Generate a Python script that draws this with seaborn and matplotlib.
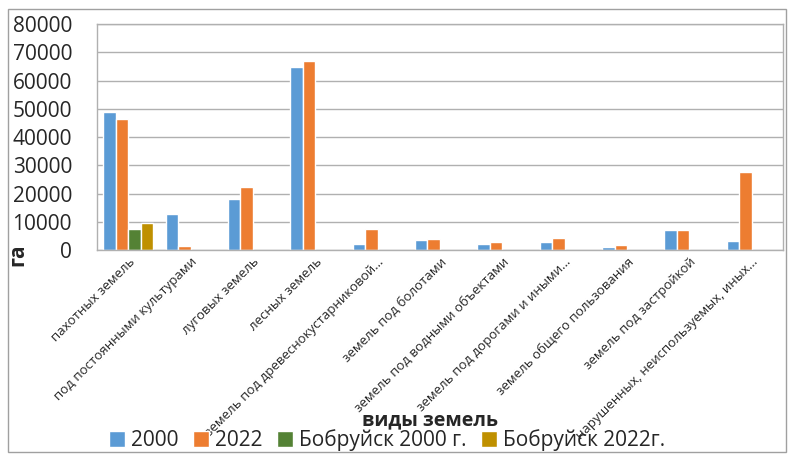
import pandas as pd
import numpy as np
import seaborn as sns
import matplotlib.pyplot as plt
from matplotlib.patches import Rectangle

# категории и значения (га)
categories = ['пахотных земель', 'под постоянными культурами', 'луговых земель',
              'лесных земель', 'земель под древеснокустарниковой…',
              'земель под болотами', 'земель под водными объектами',
              'земель под дорогами и иными…', 'земель общего пользования',
              'земель под застройкой', 'нарушенных, неиспользуемых, иных…']
series = ['2000', '2022', 'Бобруйск 2000 г.', 'Бобруйск 2022г.']
v2000 = [49000, 12800, 18000, 64700, 2000, 3650, 2000, 2850, 1200, 7200, 3300]
v2022 = [46300, 1500, 22300, 67000, 7600, 4000, 2850, 4350, 1650, 7200, 27600]
bob2000 = [7600] + [np.nan] * 10
bob2022 = [9700] + [np.nan] * 10
colors = ['#5B9BD5', '#ED7D31', '#548235', '#BF9000']

rows = []
for name, vals in zip(series, [v2000, v2022, bob2000, bob2022]):
    for c, v in zip(categories, vals):
        rows.append({'вид': c, 'серия': name, 'га': v})
df = pd.DataFrame(rows)

sns.set_style('white')
plt.rcParams['font.family'] = ['Open Sans', 'DejaVu Sans']

fig = plt.figure(figsize=(7.9, 4.54), dpi=100)
ax = fig.add_axes([0.1228, 0.4493, 0.8682, 0.4977])

sns.barplot(data=df, x='вид', y='га', hue='серия', order=categories,
            hue_order=series, palette=colors, errorbar=None, width=0.8,
            saturation=1, ax=ax)

ax.set_ylim(0, 80000)
ax.set_yticks(range(0, 80001, 10000))
ax.yaxis.grid(True, color='#b0b0b0', linewidth=1)
ax.set_axisbelow(True)
for s in ax.spines.values():
    s.set_color('#b0b0b0')
    s.set_linewidth(1)

ax.tick_params(axis='y', labelsize=15, length=0, pad=18, labelcolor='#262626')
ax.tick_params(axis='x', labelsize=9.5, length=0, pad=4)
plt.setp(ax.get_xticklabels(), rotation=45, ha='right', rotation_mode='anchor')

ax.set_xlabel('виды земель', fontsize=14, fontweight='bold')
ax.xaxis.set_label_coords(0.485, -0.71)
ax.set_ylabel('га', fontsize=15, fontweight='bold')
ax.yaxis.set_label_coords(-0.100, -0.02)

handles, labels = ax.get_legend_handles_labels()
ax.get_legend().remove()
fig.legend(handles, labels, loc='center', bbox_to_anchor=(0.49, 0.03), ncol=4,
           frameon=False, fontsize=15, handlelength=0.75, handleheight=0.75,
           handletextpad=0.3, columnspacing=0.7)

# рамка вокруг диаграммы
fig.patches.append(Rectangle((8 / 790, 2 / 454), 778 / 790, 443 / 454,
                             transform=fig.transFigure, fill=False,
                             edgecolor='#a0a0a0', linewidth=1))

plt.savefig('out.png')
